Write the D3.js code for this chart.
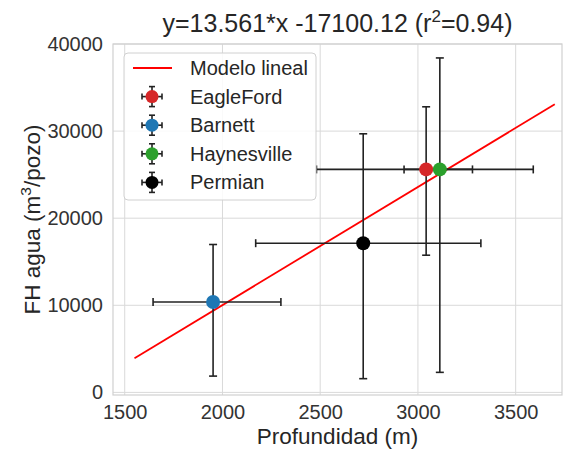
<!DOCTYPE html>
<html><head><meta charset="utf-8">
<script src="https://cdn.jsdelivr.net/npm/d3@7"></script>
<style>
body{margin:0;background:#fff;}
svg{display:block;font-family:"Liberation Sans",Arial,sans-serif;}
</style></head>
<body>
<svg id="c" width="564" height="452"></svg>
<script>
// Data
const basins = ["EagleFord", "Barnett", "Haynesville", "Permian"];
const colors = ["#d62728", "#1f77b4", "#2ca02c", "#000000"];
const depth = [3042, 1952, 3112, 2720];
const depthLow = [2481, 1645, 2929, 2170];
const depthHigh = [3590, 2299, 3279, 3322];
const water = [25600, 10380, 25600, 17130];
const waterLow = [15750, 1870, 2300, 1575];
const waterHigh = [32790, 16980, 38400, 29690];
const slope = 13.561, intercept = -17100.12;
const fitRange = [1550, 3700];
const xTicks = [1500, 2000, 2500, 3000, 3500];
const yTicks = [0, 10000, 20000, 30000, 40000];

const svg = d3.select("#c");
const L = 113, R = 562, T = 44, B = 395;
const x = d3.scaleLinear().domain([1440, 3737]).range([L, R]);
const y = d3.scaleLinear().domain([-300, 40000]).range([B, T]);

const grid = "#d9d9d9", txt = "#333", dark = "#262626";
const FF = "Liberation Sans, Arial, sans-serif";

// grid
svg.append("g").selectAll("line").data(xTicks).join("line")
  .attr("x1", d => x(d)).attr("x2", d => x(d)).attr("y1", T).attr("y2", B)
  .attr("stroke", grid).attr("stroke-width", 1);
svg.append("g").selectAll("line").data(yTicks).join("line")
  .attr("x1", L).attr("x2", R).attr("y1", d => y(d)).attr("y2", d => y(d))
  .attr("stroke", grid).attr("stroke-width", 1);
// frame
svg.append("rect").attr("x", L).attr("y", T).attr("width", R - L).attr("height", B - T)
  .attr("fill", "none").attr("stroke", "#d0d0d0").attr("stroke-width", 1.2);

// axes (text only)
const xAxis = d3.axisBottom(x).tickValues(xTicks).tickSize(0).tickPadding(10).tickFormat(d3.format("d"));
const gx = svg.append("g").attr("transform", `translate(0,${B})`).call(xAxis);
gx.select(".domain").remove();
gx.selectAll("text").attr("font-size", 20).attr("fill", txt).attr("font-family", FF);
const yAxis = d3.axisLeft(y).tickValues(yTicks).tickSize(0).tickPadding(10).tickFormat(d3.format("d"));
const gy = svg.append("g").attr("transform", `translate(${L},0)`).call(yAxis);
gy.select(".domain").remove();
gy.selectAll("text").attr("font-size", 20).attr("fill", txt).attr("font-family", FF);

// regression line
svg.append("line")
  .attr("x1", x(fitRange[0])).attr("y1", y(slope * fitRange[0] + intercept))
  .attr("x2", x(fitRange[1])).attr("y2", y(slope * fitRange[1] + intercept))
  .attr("stroke", "#ff0000").attr("stroke-width", 1.8);

// error bars + markers
const cap = 4;
basins.forEach((b, i) => {
  const g = svg.append("g").attr("stroke", "#222").attr("stroke-width", 1.6);
  g.append("line").attr("x1", x(depthLow[i])).attr("x2", x(depthHigh[i])).attr("y1", y(water[i])).attr("y2", y(water[i]));
  g.append("line").attr("x1", x(depth[i])).attr("x2", x(depth[i])).attr("y1", y(waterLow[i])).attr("y2", y(waterHigh[i]));
  [depthLow[i], depthHigh[i]].forEach(v => g.append("line").attr("x1", x(v)).attr("x2", x(v)).attr("y1", y(water[i]) - cap).attr("y2", y(water[i]) + cap));
  [waterLow[i], waterHigh[i]].forEach(v => g.append("line").attr("y1", y(v)).attr("y2", y(v)).attr("x1", x(depth[i]) - cap).attr("x2", x(depth[i]) + cap));
});
basins.forEach((b, i) => {
  svg.append("circle").attr("cx", x(depth[i])).attr("cy", y(water[i])).attr("r", 7).attr("fill", colors[i]);
});

// title
svg.append("text").attr("x", (L + R) / 2).attr("y", 32).attr("text-anchor", "middle")
  .attr("font-size", 25).attr("fill", dark)
  .html('y=13.561*x -17100.12 (r<tspan dy="-10" font-size="17">2</tspan><tspan dy="10">=0.94)</tspan>');

// axis labels
svg.append("text").attr("x", (L + R) / 2).attr("y", 444).attr("text-anchor", "middle")
  .attr("font-size", 22.5).attr("fill", dark).text("Profundidad (m)");
svg.append("text").attr("transform", `translate(40,${(T + B) / 2}) rotate(-90)`).attr("text-anchor", "middle")
  .attr("font-size", 22.5).attr("fill", dark)
  .html('FH agua (m<tspan dy="-9" font-size="15.5">3</tspan><tspan dy="9">/pozo)</tspan>');

// legend
const lg = svg.append("g");
lg.append("rect").attr("x", 124).attr("y", 53).attr("width", 192).attr("height", 147).attr("rx", 4)
  .attr("fill", "#fff").attr("fill-opacity", 0.85).attr("stroke", "#d0d0d0").attr("stroke-width", 1);
const rowY = i => 68 + i * 28.6;
lg.append("line").attr("x1", 133).attr("x2", 172).attr("y1", rowY(0)).attr("y2", rowY(0))
  .attr("stroke", "#ff0000").attr("stroke-width", 1.8);
lg.append("text").attr("x", 190).attr("y", rowY(0) + 7).attr("font-size", 20).attr("fill", dark).text("Modelo lineal");
basins.forEach((b, i) => {
  const cy = rowY(i + 1), cx = 152;
  const g = lg.append("g").attr("stroke", "#222").attr("stroke-width", 1.6);
  g.append("line").attr("x1", cx - 10).attr("x2", cx + 10).attr("y1", cy).attr("y2", cy);
  g.append("line").attr("x1", cx).attr("x2", cx).attr("y1", cy - 10).attr("y2", cy + 10);
  g.append("line").attr("x1", cx - 10).attr("x2", cx - 10).attr("y1", cy - 3).attr("y2", cy + 3);
  g.append("line").attr("x1", cx + 10).attr("x2", cx + 10).attr("y1", cy - 3).attr("y2", cy + 3);
  g.append("line").attr("x1", cx - 3).attr("x2", cx + 3).attr("y1", cy - 10).attr("y2", cy - 10);
  g.append("line").attr("x1", cx - 3).attr("x2", cx + 3).attr("y1", cy + 10).attr("y2", cy + 10);
  lg.append("circle").attr("cx", cx).attr("cy", cy).attr("r", 6.5).attr("fill", colors[i]);
  lg.append("text").attr("x", 190).attr("y", cy + 7).attr("font-size", 20).attr("fill", dark).text(b);
});
</script>
</body></html>
